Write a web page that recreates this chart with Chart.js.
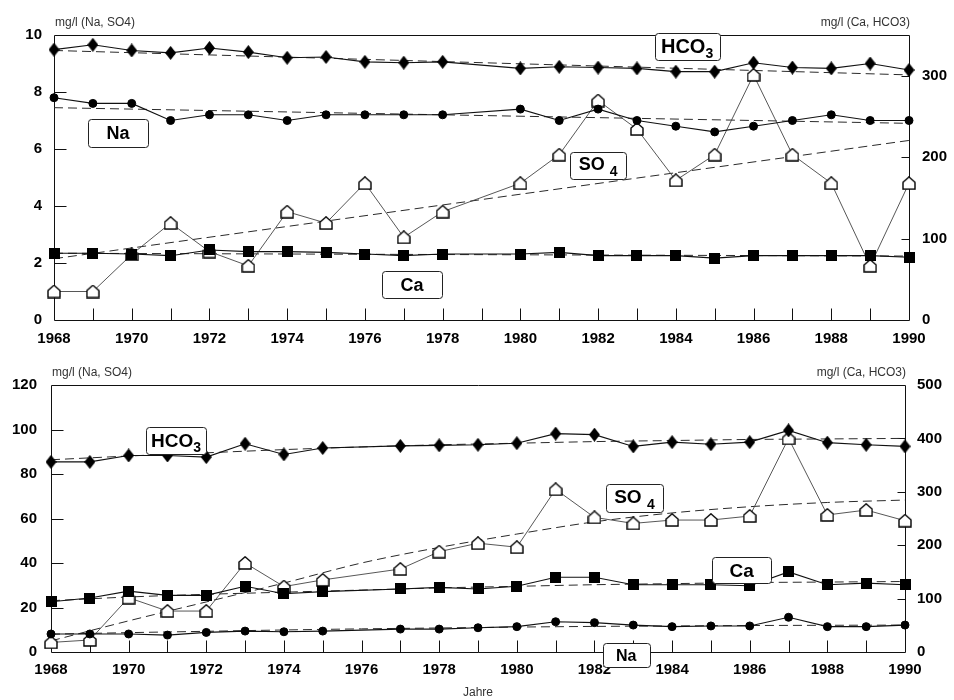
<!DOCTYPE html>
<html>
<head>
<meta charset="utf-8">
<script src="https://cdn.jsdelivr.net/npm/chart.js@4/dist/chart.umd.min.js"></script>
<style>
  html, body { margin: 0; padding: 0; background: #fff; }
  #wrap { position: relative; width: 954px; height: 700px; }
  #chartTop { position: absolute; left: 0; top: 0; }
  #chartBot { position: absolute; left: 0; top: 345px; }
</style>
</head>
<body>
<div id="wrap">
  <canvas id="chartTop" width="954" height="345"></canvas>
  <canvas id="chartBot" width="954" height="355"></canvas>
</div>
<script>
// ---- upper station: measured annual values ----
const yearsTop = [1968,1969,1970,1971,1972,1973,1974,1975,1976,1977,1978,1980,1981,1982,1983,1984,1985,1986,1987,1988,1989,1990];
const hco3Top  = [332,338,331,328,334,329,322,323,317,316,317,309,311,310,309,305,305,316,310,309,315,307];
const naTop    = [7.8,7.6,7.6,7.0,7.2,7.2,7.0,7.2,7.2,7.2,7.2,7.4,7.0,7.4,7.0,6.8,6.6,6.8,7.0,7.2,7.0,7.0];
const so4Top   = [1.0,1.0,2.3,3.4,2.4,1.9,3.8,3.4,4.8,2.9,3.8,4.8,5.8,7.7,6.7,4.9,5.8,8.6,5.8,4.8,1.9,4.8];
const caTop    = [82,82,81,79,86,84,84,83,81,79,81,81,83,79,79,79,76,79,79,79,79,77];

// upper station: trend lines
const trendYearsTop = [1968, 1990];
const hco3TrendTop  = [331, 301];
const naTrendTop    = [7.45, 6.9];
const so4TrendTop   = [2.15, 6.3];
const caTrendTop    = [82, 78.5];

// upper station: axis ticks
const leftTicksTop  = [0, 2, 4, 6, 8, 10];
const rightTicksTop = [0, 100, 200, 300];

// ---- lower station: measured annual values ----
const yearsBot = [1968,1969,1970,1971,1972,1973,1974,1975,1977,1978,1979,1980,1981,1982,1983,1984,1985,1986,1987,1988,1989,1990];
const hco3Bot  = [356,356,368,368,365,390,370,382,386,387,388,391,409,407,385,393,389,393,415,392,388,385];
const naBot    = [8.1,8.1,8.1,7.6,8.8,9.4,9.1,9.4,10.3,10.3,10.9,11.4,13.6,13.2,12.1,11.4,11.7,11.7,15.6,11.4,11.4,12.1];
const so4Bot   = [4.3,5.4,24.4,18.4,18.4,40,29.4,32.4,37.3,45.1,48.9,47.1,73.1,60.5,57.8,59.3,59.3,61.1,96,61.6,63.8,59];
const caBot    = [94,101,114,106,106,123,109,113,118,121,118,123,140,140,126,126,126,124,150,126,129,126];

// lower station: trend curves
const trendYearsBot = [1968,1970,1972,1974,1976,1978,1980,1982,1984,1986,1988,1990];
const hco3TrendBot  = [360,367,373,379,384,388,391,394,396,398,399,400];
const naTrendBot    = [8.0,8.7,9.3,9.9,10.4,10.8,11.2,11.5,11.7,11.9,12.0,12.1];
const so4TrendBot   = [5,14,22.5,31,40,47,53,58.5,62.5,65.3,67.2,68.3];
const caTrendBot    = [96,103,108,112,116,120,123,126,128,130,131,132];

// lower station: axis ticks
const leftTicksBot  = [0, 20, 40, 60, 80, 100, 120];
const rightTicksBot = [0, 100, 200, 300, 400, 500];

const FONT = '"Liberation Sans", Arial, Helvetica, sans-serif';

// ---- marker glyphs ----
function glyph(w, h, draw) {
  const c = document.createElement('canvas');
  c.width = w; c.height = h;
  draw(c.getContext('2d'), w, h);
  return c;
}
const diamond = glyph(11, 14, (g, w, h) => {
  g.fillStyle = '#000';
  g.beginPath();
  g.moveTo(w / 2, 0); g.lineTo(w, h / 2); g.lineTo(w / 2, h); g.lineTo(0, h / 2);
  g.closePath(); g.fill();
});
const square = glyph(11, 11, (g, w, h) => { g.fillStyle = '#000'; g.fillRect(0, 0, w, h); });
const house = glyph(14, 14, (g) => {
  g.fillStyle = '#fff'; g.strokeStyle = '#000'; g.lineWidth = 1.4;
  g.beginPath();
  g.moveTo(1, 6); g.lineTo(7, 0.8); g.lineTo(13, 6); g.lineTo(13, 13); g.lineTo(1, 13);
  g.closePath(); g.fill(); g.stroke();
});

const pts = (xs, ys) => xs.map((x, i) => ({ x, y: ys[i] }));

function series(xs, ys, axis, marker, opts = {}) {
  return Object.assign({
    data: pts(xs, ys), yAxisID: axis, clip: false,
    borderColor: '#111', borderWidth: 1.1, tension: 0,
    pointStyle: marker, pointRadius: 5, pointBackgroundColor: '#000',
    pointBorderColor: '#000', pointBorderWidth: 1, order: 1
  }, opts);
}
function trend(xs, ys, axis) {
  return {
    data: pts(xs, ys), yAxisID: axis, clip: false,
    borderColor: '#2a2a2a', borderWidth: 1, borderDash: [9, 5],
    pointRadius: 0, tension: 0.4, cubicInterpolationMode: 'monotone', order: 10
  };
}

// ---- frame, inward ticks, unit captions and label boxes ----
const decor = {
  id: 'decor',
  beforeDatasetsDraw(chart, args, o) {
    const { ctx, chartArea: a, scales } = chart;
    ctx.save();
    ctx.strokeStyle = '#111';
    ctx.lineWidth = 1;
    const L = Math.round(a.left) + 0.5, R = Math.round(a.right) + 0.5;
    const T = Math.round(a.top) + 0.5, B = Math.round(a.bottom) + 0.5;
    ctx.beginPath();
    ctx.moveTo(L, T); ctx.lineTo(R, T); ctx.lineTo(R, B); ctx.lineTo(L, B); ctx.closePath();
    ctx.stroke();
    ctx.beginPath();
    for (let yr = o.xMin + 1; yr < o.xMax; yr++) {
      const x = Math.round(scales.x.getPixelForValue(yr)) + 0.5;
      ctx.moveTo(x, B); ctx.lineTo(x, B - 12);
    }
    o.leftTicks.slice(1, -1).forEach(v => {
      const y = Math.round(scales.yL.getPixelForValue(v)) + 0.5;
      ctx.moveTo(L, y); ctx.lineTo(L + 12, y);
    });
    o.rightTicks.slice(1).forEach(v => {
      if (v >= scales.yR.max) return;
      const y = Math.round(scales.yR.getPixelForValue(v)) + 0.5;
      ctx.moveTo(R, y); ctx.lineTo(R - 8, y);
    });
    ctx.stroke();
    ctx.restore();
  },
  afterDatasetsDraw(chart, args, o) {
    const { ctx, chartArea: a, scales } = chart;
    ctx.save();
    // unit captions
    ctx.fillStyle = '#333';
    ctx.font = '12px ' + FONT;
    ctx.textBaseline = 'alphabetic';
    ctx.textAlign = 'left';
    ctx.fillText('mg/l (Na, SO4)', a.left + 1, a.top - 9.5);
    ctx.textAlign = 'right';
    ctx.fillText('mg/l (Ca, HCO3)', a.right + 1, a.top - 9.5);
    if (o.xTitle) {
      ctx.textAlign = 'center';
      ctx.textBaseline = 'middle';
      ctx.fillText(o.xTitle, (a.left + a.right) / 2, a.bottom + 41);
    }
    // boxed ion labels
    o.boxes.forEach(b => {
      const cx = scales.x.getPixelForValue(b.x);
      const cy = scales.yL.getPixelForValue(b.y);
      const x0 = Math.round(cx - b.w / 2) + 0.5, y0 = Math.round(cy - b.h / 2) + 0.5;
      ctx.beginPath();
      ctx.roundRect(x0, y0, b.w, b.h, 3);
      ctx.fillStyle = '#fff';
      ctx.fill();
      ctx.strokeStyle = '#222';
      ctx.lineWidth = 1;
      ctx.stroke();
      let total = 0;
      b.parts.forEach(p => { ctx.font = 'bold ' + p.size + 'px ' + FONT; p.w = ctx.measureText(p.t).width; total += p.w; });
      let x = cx - total / 2;
      const base = cy + b.size * 0.716 / 2 + (b.dy || 0);
      ctx.fillStyle = '#000';
      ctx.textAlign = 'left';
      ctx.textBaseline = 'alphabetic';
      b.parts.forEach(p => {
        ctx.font = 'bold ' + p.size + 'px ' + FONT;
        ctx.fillText(p.t, x, base + (p.dy || 0));
        x += p.w;
      });
    });
    ctx.restore();
  }
};

function makeChart(id, cfg) {
  const tickFont = { family: FONT, size: 15, weight: 'bold' };
  return new Chart(document.getElementById(id), {
    type: 'line',
    data: { datasets: cfg.datasets },
    plugins: [decor],
    options: {
      responsive: false,
      animation: false,
      events: [],
      layout: { padding: { top: cfg.top, left: 0, right: 0, bottom: 0 }, autoPadding: false },
      plugins: {
        legend: { display: false },
        tooltip: { enabled: false },
        decor: cfg.decor
      },
      scales: {
        x: {
          type: 'linear', position: 'bottom', min: 1968, max: 1990,
          grid: { display: false, drawTicks: false },
          border: { display: false },
          ticks: { stepSize: 2, autoSkip: false, maxRotation: 0, padding: cfg.xPad, color: '#000', font: tickFont,
                   callback: v => String(v) },
          afterFit: s => { s.height = cfg.xHeight; }
        },
        yL: {
          type: 'linear', position: 'left', min: cfg.leftTicks[0], max: cfg.leftTicks[cfg.leftTicks.length - 1],
          grid: { display: false, drawTicks: false },
          border: { display: false },
          ticks: { padding: cfg.lPad, color: '#000', font: tickFont },
          afterBuildTicks: s => { s.ticks = cfg.leftTicks.map(v => ({ value: v })); },
          afterFit: s => { s.width = cfg.left; }
        },
        yR: {
          type: 'linear', position: 'right', min: 0, max: cfg.rightMax,
          grid: { display: false, drawTicks: false },
          border: { display: false },
          ticks: { padding: cfg.rPad, color: '#000', font: tickFont },
          afterBuildTicks: s => { s.ticks = cfg.rightTicks.map(v => ({ value: v })); },
          afterFit: s => { s.width = cfg.right; }
        }
      }
    }
  });
}

const HCO3 = (s, sub) => [{ t: 'HCO', size: s }, { t: '3', size: sub, dy: 5 }];
const SO4 = (s, sub) => [{ t: 'SO ', size: s }, { t: '4', size: sub, dy: 6 }];

makeChart('chartTop', {
  top: 35, left: 54, right: 45, xHeight: 25, xPad: 10, lPad: 12, rPad: 13,
  leftTicks: leftTicksTop, rightTicks: rightTicksTop, rightMax: 350,
  datasets: [
    series(yearsTop, hco3Top, 'yR', diamond, { order: 0 }),
    series(yearsTop, naTop, 'yL', 'circle', { pointRadius: 4, order: 0 }),
    series(yearsTop, caTop, 'yR', square, { order: 1 }),
    series(yearsTop, so4Top, 'yL', house, { borderColor: '#444', borderWidth: 0.9, order: 2 }),
    trend(trendYearsTop, hco3TrendTop, 'yR'),
    trend(trendYearsTop, naTrendTop, 'yL'),
    trend(trendYearsTop, so4TrendTop, 'yL'),
    trend(trendYearsTop, caTrendTop, 'yR')
  ],
  decor: {
    xMin: 1968, xMax: 1990, leftTicks: leftTicksTop, rightTicks: rightTicksTop,
    boxes: [
      { x: 1984.29, y: 9.61, w: 65, h: 27, size: 20, parts: HCO3(20, 14) },
      { x: 1969.65, y: 6.56, w: 60, h: 28, size: 18, parts: [{ t: 'Na', size: 18 }] },
      { x: 1982.0, y: 5.42, w: 56, h: 27, size: 18, dy: -2, parts: SO4(18, 14) },
      { x: 1977.21, y: 1.25, w: 60, h: 27, size: 18, parts: [{ t: 'Ca', size: 18 }] }
    ]
  }
});

makeChart('chartBot', {
  top: 40, left: 51, right: 49, xHeight: 48, xPad: 9, lPad: 14, rPad: 12,
  leftTicks: leftTicksBot, rightTicks: rightTicksBot, rightMax: 500,
  datasets: [
    series(yearsBot, hco3Bot, 'yR', diamond, { order: 0 }),
    series(yearsBot, naBot, 'yL', 'circle', { pointRadius: 4, order: 0 }),
    series(yearsBot, caBot, 'yR', square, { order: 1 }),
    series(yearsBot, so4Bot, 'yL', house, { borderColor: '#444', borderWidth: 0.9, order: 2 }),
    trend(trendYearsBot, hco3TrendBot, 'yR'),
    trend(trendYearsBot, naTrendBot, 'yL'),
    trend(trendYearsBot, so4TrendBot, 'yL'),
    trend(trendYearsBot, caTrendBot, 'yR')
  ],
  decor: {
    xMin: 1968, xMax: 1990, leftTicks: leftTicksBot, rightTicks: rightTicksBot, xTitle: 'Jahre',
    boxes: [
      { x: 1971.22, y: 95.06, w: 60, h: 27, size: 19, parts: HCO3(19, 14) },
      { x: 1983.03, y: 69.2, w: 57, h: 28, size: 19, dy: -2, parts: SO4(19, 14) },
      { x: 1985.79, y: 36.85, w: 59, h: 26, size: 19, parts: [{ t: 'Ca', size: 19 }] },
      { x: 1982.82, y: -1.57, w: 47, h: 24, size: 16, parts: [{ t: 'Na', size: 16 }] }
    ]
  }
});
</script>
</body>
</html>
